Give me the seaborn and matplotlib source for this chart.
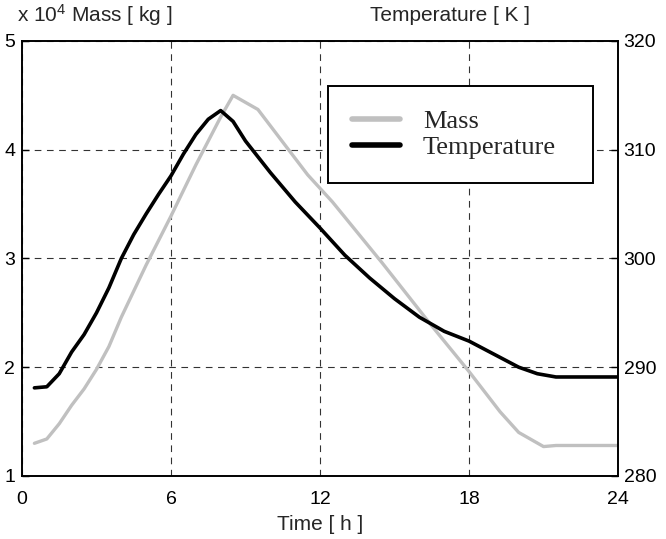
import numpy as np
import pandas as pd
import matplotlib
matplotlib.use('Agg')
import matplotlib.pyplot as plt
import seaborn as sns

# Mass (x 10^4 kg) and temperature (K) over one day
mass_time = [0.5, 1.0, 1.5, 2.0, 2.5, 3.0, 3.5, 4.0, 5.0, 6.0, 7.0, 8.0, 8.5,
             9.5, 10.5, 11.5, 12.5, 13.5, 14.5, 15.5, 16.5, 17.5, 18.0,
             19.25, 20.0, 21.0, 21.5, 24.0]
mass = [1.30, 1.34, 1.48, 1.65, 1.80, 1.98, 2.19, 2.46, 2.94, 3.39, 3.86, 4.30, 4.50,
        4.37, 4.07, 3.77, 3.52, 3.24, 2.96, 2.67, 2.38, 2.10, 1.96,
        1.59, 1.40, 1.27, 1.28, 1.28]

temp_time = [0.5, 1.0, 1.5, 2.0, 2.5, 3.0, 3.5, 4.0, 4.5, 5.0, 5.5, 6.0, 6.5,
             7.0, 7.5, 8.0, 8.5, 9.0, 10.0, 11.0, 12.0, 13.0, 14.0, 15.0,
             16.0, 17.0, 18.0, 19.0, 20.0, 20.75, 21.5, 24.0]
temperature = [288.1, 288.2, 289.4, 291.4, 293.0, 295.0, 297.3, 300.0, 302.2, 304.1,
               305.9, 307.6, 309.6, 311.4, 312.8, 313.6, 312.6, 310.8, 307.9, 305.2,
               302.8, 300.3, 298.2, 296.3, 294.6, 293.3, 292.4, 291.2, 290.0,
               289.4, 289.1, 289.1]

x_ticks = [0, 6, 12, 18, 24]
mass_ticks = [1, 2, 3, 4, 5]
temp_ticks = [280, 290, 300, 310, 320]

df_mass = pd.DataFrame({'Time': mass_time, 'Mass': mass})
df_temp = pd.DataFrame({'Time': temp_time, 'Temperature': temperature})

sns.set_style('white')
plt.rcParams['font.family'] = ['Liberation Sans', 'DejaVu Sans']
plt.rcParams['mathtext.default'] = 'regular'

fig = plt.figure(figsize=(6.66, 5.39), dpi=100)
ax = fig.add_axes([0.033, 0.117, 0.895, 0.807])

sns.lineplot(data=df_mass, x='Time', y='Mass', ax=ax, color='#c0c0c0',
             linewidth=2.4, label='Mass', legend=False)
ax2 = ax.twinx()
sns.lineplot(data=df_temp, x='Time', y='Temperature', ax=ax2, color='black',
             linewidth=2.6, label='Temperature', legend=False)

ax.set_xlim(0, 24)
ax.set_ylim(1, 5)
ax2.set_ylim(280, 320)
ax.set_xticks(x_ticks)
ax.set_yticks(mass_ticks)
ax2.set_yticks(temp_ticks)

ax.grid(True, color='black', linestyle=(0, (6, 5)), linewidth=0.8, alpha=0.8)
ax.set_xlabel('Time [ h ]', fontsize=15, labelpad=5)
ax.set_ylabel('')
ax2.set_ylabel('')

ax.tick_params(axis='both', direction='in', length=5, width=1, labelsize=14,
               colors='black', pad=5)
ax.tick_params(axis='x', pad=11)
ax2.tick_params(axis='y', direction='in', length=5, width=1, labelsize=14,
                colors='black', pad=4)

for a in (ax, ax2):
    for s in a.spines.values():
        s.set_color('black')
        s.set_linewidth(1.2)

ax.text(-0.008, 1.045, 'x 10$^4$ Mass [ kg ]', transform=ax.transAxes,
        fontsize=15, ha='left', va='baseline')
ax.text(0.584, 1.045, 'Temperature [ K ]', transform=ax.transAxes,
        fontsize=15, ha='left', va='baseline')

h1, l1 = ax.get_legend_handles_labels()
h2, l2 = ax2.get_legend_handles_labels()
leg = ax2.legend(h1 + h2, l1 + l2, loc='upper left',
                 bbox_to_anchor=(0.513, 0.897, 0.445, 0.0), mode='expand',
                 prop={'family': 'Liberation Serif', 'size': 19},
                 frameon=True, fancybox=False, borderpad=0.9,
                 labelspacing=0.1, handlelength=1.85, handletextpad=0.85,
                 borderaxespad=0)
leg.get_frame().set_edgecolor('black')
leg.get_frame().set_linewidth(1.4)
leg.get_frame().set_alpha(1)
for line in leg.get_lines():
    line.set_linewidth(4)

fig.savefig('out.png', dpi=100)
